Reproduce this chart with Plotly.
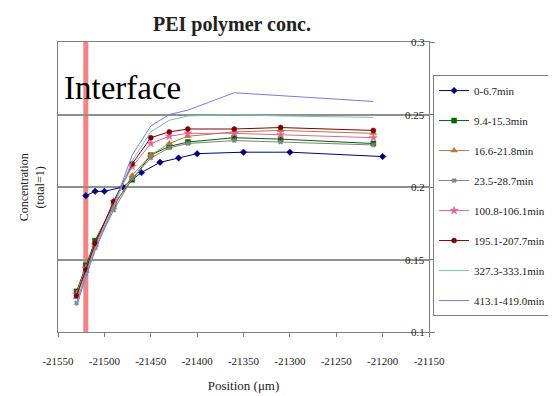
import plotly.graph_objects as go

# ---------------- data ----------------
x_first = [-21520, -21510, -21500, -21480, -21460, -21440, -21420, -21400, -21350, -21300, -21200]
x_other = [-21530, -21520, -21510, -21490, -21470, -21450, -21430, -21410, -21360, -21310, -21210]

series_names = ["0-6.7min", "9.4-15.3min", "16.6-21.8min", "23.5-28.7min",
                "100.8-106.1min", "195.1-207.7min", "327.3-333.1min", "413.1-419.0min"]

y_0_6 = [0.194, 0.197, 0.197, 0.200, 0.210, 0.217, 0.220, 0.223, 0.224, 0.224, 0.221]
y_9_15 = [0.128, 0.146, 0.163, 0.188, 0.205, 0.222, 0.228, 0.231, 0.234, 0.233, 0.230]
y_16_21 = [0.124, 0.142, 0.160, 0.186, 0.208, 0.222, 0.230, 0.235, 0.238, 0.239, 0.237]
y_23_28 = [0.120, 0.140, 0.158, 0.184, 0.206, 0.220, 0.227, 0.230, 0.232, 0.231, 0.229]
y_100_106 = [0.126, 0.144, 0.160, 0.190, 0.214, 0.230, 0.235, 0.237, 0.237, 0.236, 0.234]
y_195_207 = [0.125, 0.143, 0.161, 0.190, 0.216, 0.234, 0.238, 0.240, 0.240, 0.241, 0.239]
y_327_333 = [0.119, 0.139, 0.157, 0.186, 0.218, 0.238, 0.246, 0.249, 0.250, 0.249, 0.248]
y_413_419 = [0.118, 0.138, 0.156, 0.187, 0.222, 0.242, 0.250, 0.253, 0.265, 0.263, 0.259]

interface_x = -21520
x_ticks = [-21550, -21500, -21450, -21400, -21350, -21300, -21250, -21200, -21150]
x_tick_labels = ["-21550", "-21500", "-21450", "-21400", "-21350", "-21300", "-21250", "-21200", "-21150"]
y_ticks = [0.1, 0.15, 0.2, 0.25, 0.3]
y_tick_labels = ["0.1", "0.15", "0.2", "0.25", "0.3"]

# ---------------- styles ----------------
ys = [y_0_6, y_9_15, y_16_21, y_23_28, y_100_106, y_195_207, y_327_333, y_413_419]
xs = [x_first] + [x_other] * 7
colors = ["#000080", "#006400", "#b87838", "#808080", "#e8609a", "#800000", "#70c8a8", "#7878f0"]
symbols = ["diamond", "square", "triangle-up", "x", "star", "circle", None, None]
sizes = [5, 5, 6, 4, 6, 5, 0, 0]

SERIF = "Liberation Serif, Times New Roman, serif"
TXT = "#222222"

# page body has an 8px default margin: the figure is 548x388 placed at (8,8)
fig = go.Figure()
for i, name in enumerate(series_names):
    mode = "lines+markers" if symbols[i] else "lines"
    fig.add_trace(go.Scatter(
        x=xs[i], y=ys[i], name=name, mode=mode, legendgroup=name,
        line=dict(color=colors[i], width=1),
        marker=dict(symbol=symbols[i] or "circle", size=sizes[i], color=colors[i],
                    line=dict(width=0.5, color=colors[i])),
    ))

fig.add_shape(type="line", xref="x", yref="paper", x0=interface_x, x1=interface_x,
              y0=0, y1=1, line=dict(color="rgba(240,90,90,0.75)", width=5), layer="below")

for v, lab in zip(y_ticks, y_tick_labels):
    fig.add_annotation(text=lab, xref="paper", yref="y", x=1, y=v, xanchor="right",
                       yanchor="middle", xshift=-2, showarrow=False,
                       font=dict(family=SERIF, size=11, color=TXT))

fig.add_annotation(text="Interface", xref="paper", yref="paper", x=0.01, y=0.84,
                   xanchor="left", yanchor="middle", showarrow=False,
                   font=dict(family=SERIF, size=33, color="black"))

fig.add_annotation(text="Concentration<br>(total=1)", xref="paper", yref="paper",
                   x=-0.115, y=0.5, textangle=-90, showarrow=False,
                   font=dict(family=SERIF, size=12, color=TXT))

fig.update_layout(
    width=548, height=388,
    margin=dict(l=50, r=127, t=34, b=64, autoexpand=False),
    paper_bgcolor="white", plot_bgcolor="white",
    title=dict(text="<b>PEI polymer conc.</b>", x=0.469, xref="paper", xanchor="center",
               y=0.96, yref="container", yanchor="middle",
               font=dict(family=SERIF, size=20, color=TXT)),
    font=dict(family=SERIF, size=11, color=TXT),
    showlegend=True,
    legend=dict(x=1.011, xanchor="left", y=0.886, yanchor="top",
                bordercolor="#808080", borderwidth=1, bgcolor="white",
                font=dict(family=SERIF, size=11, color=TXT),
                tracegroupgap=11, itemwidth=30),
    xaxis=dict(range=[-21550, -21150], tickvals=x_ticks, ticktext=x_tick_labels,
               ticks="outside", ticklen=4, automargin=False,
               tickcolor="#808080", showline=True, linecolor="#808080", linewidth=1,
               mirror=True, showgrid=False, zeroline=False,
               tickfont=dict(family=SERIF, size=11, color=TXT),
               ticklabelstandoff=15,
               title=dict(text="Position (μm)", font=dict(family=SERIF, size=13, color=TXT),
                          standoff=14)),
    yaxis=dict(range=[0.1, 0.3], tickvals=y_ticks, showticklabels=False, side="right",
               ticks="outside", ticklen=5, tickcolor="#808080", automargin=False,
               showline=True, linecolor="#808080", linewidth=1, mirror=True,
               showgrid=True, gridcolor="#909090", gridwidth=1.5, zeroline=False),
)

fig.write_html("out.html")
